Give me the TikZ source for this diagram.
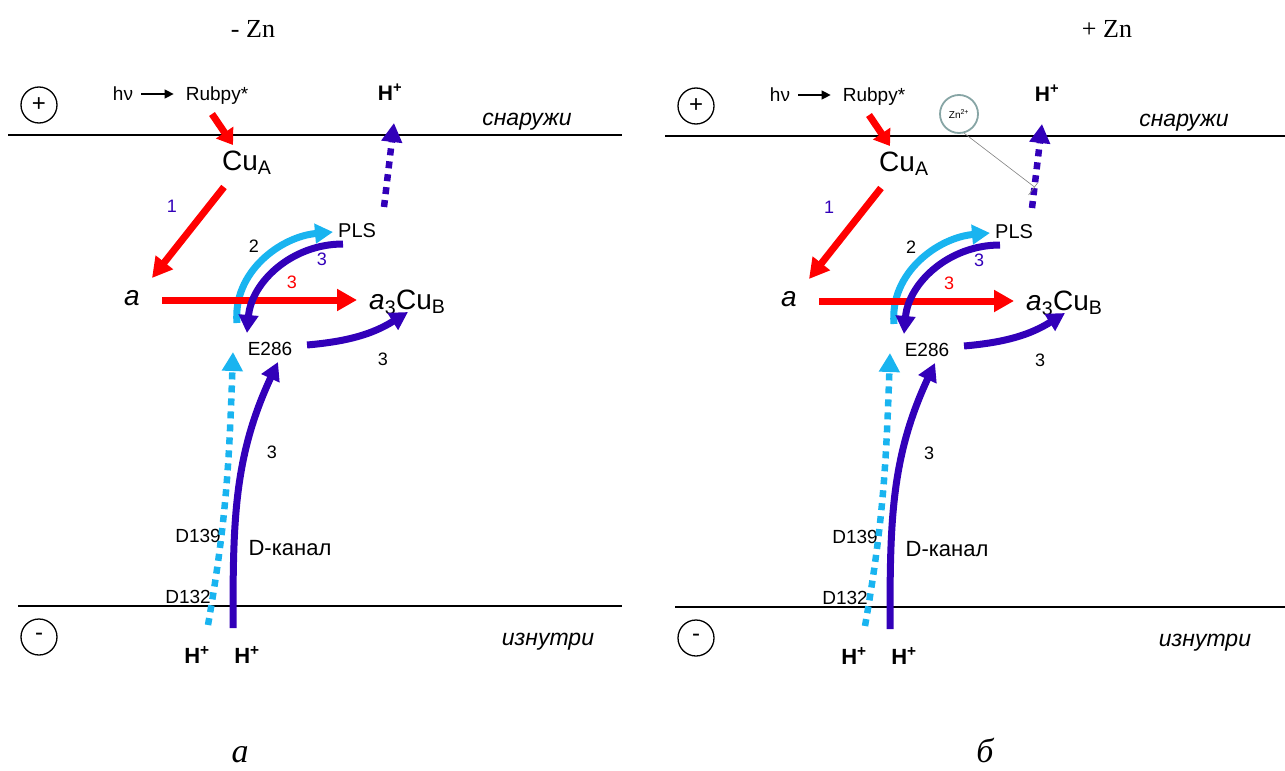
\documentclass[tikz,border=0pt]{standalone}
\usepackage{fontspec}
\setmainfont{Liberation Sans}
\newfontfamily\serifrm{Liberation Serif}
\usetikzlibrary{arrows.meta}
\definecolor{rd}{RGB}{255,0,0}
\definecolor{db}{RGB}{50,0,185}
\definecolor{lb}{RGB}{25,180,240}
\definecolor{zng}{RGB}{135,165,165}
\newcommand\fsz[1]{\fontsize{#1}{#1}\selectfont}
\tikzset{
  lbl/.style={inner sep=0pt},
  membrane/.style={line width=1.3pt, black},
  signc/.style={circle, draw, line width=1.3pt, minimum size=36pt, inner sep=0pt, font=\fsz{24}},
  redarr/.style={line width=7pt, rd, -{Triangle[length=20pt,width=21pt]}},
  redshort/.style={line width=7pt, rd, -{Triangle[length=15pt,width=20pt]}},
  dbarr/.style={line width=7pt, db, -{Triangle[length=18pt,width=19pt]}},
  lbarr/.style={line width=7pt, lb, -{Triangle[length=18pt,width=19pt]}},
  dotdb/.style={line width=6.5pt, db, dash pattern=on 7pt off 6pt, -{Triangle[length=19pt,width=20pt]}},
  dotlb/.style={line width=6.5pt, lb, dash pattern=on 7pt off 6pt, -{Triangle[length=19pt,width=20pt]}},
  thinarr/.style={line width=1.3pt, black, -{Triangle[length=9pt,width=9pt]}},
}
\newcommand\drawpanel[5]{%
\begin{scope}[xshift=#2pt,yshift=#3pt]
 \node[signc] (#1plus) at (39,-105) {+};
 \node[signc] (#1minus) at (39,-637) {-};
 \coordinate (#1tl) at (8,-135); \coordinate (#1tr) at (#4,-135);
 \draw[membrane] (#1tl) -- (#1tr);
 \coordinate (#1bl) at (18,-606); \coordinate (#1br) at (#4,-606);
 \draw[membrane] (#1bl) -- (#1br);
 \node[lbl,anchor=base,font=\fsz{19}] (#1hv) at (123,-100) {hν};
 \node[lbl,anchor=base,font=\fsz{19}] (#1rub) at (217,-100) {Rubpy*};
 \draw[thinarr] ([xshift=8pt,yshift=6pt]#1hv.base east) -- ([xshift=-12pt,yshift=6pt]#1rub.base west);
 \node[lbl,anchor=base,font=\fsz{21}\bfseries] (#1Ht) at (390,-100) {H\textsuperscript{+}};
 \node[lbl,anchor=base,font=\fsz{23}\itshape] (#1out) at (527,-125) {снаружи};
 \node[lbl,anchor=base,font=\fsz{23}\itshape] (#1in) at (548,-645) {изнутри};
 \node[lbl,anchor=base west,font=\fsz{28}] (#1CuA) at (222,-170) {Cu\textsubscript{A}};
 \node[lbl,anchor=base west,font=\fsz{20}] (#1PLS) at (338,-237) {PLS};
 \node[lbl,anchor=base,font=\fsz{28}\itshape] (#1a) at (132,-305) {a};
 \node[lbl,anchor=base west,font=\fsz{28}] (#1a3) at (369,-309) {\textit{a}\textsubscript{3}Cu\textsubscript{B}};
 \node[lbl,anchor=base,font=\fsz{19}] (#1E) at (270,-355) {E286};
 \node[lbl,anchor=base,font=\fsz{18},text=db] (#1n1) at (172,-212) {1};
 \node[lbl,anchor=base,font=\fsz{18}] (#1n2) at (254,-252) {2};
 \node[lbl,anchor=base,font=\fsz{18},text=db] (#1n3a) at (322,-265) {3};
 \node[lbl,anchor=base,font=\fsz{18},text=rd] (#1n3b) at (292,-288) {3};
 \node[lbl,anchor=base,font=\fsz{18}] (#1n3c) at (383,-365) {3};
 \node[lbl,anchor=base,font=\fsz{18}] (#1n3d) at (272,-458) {3};
 \node[lbl,anchor=base,font=\fsz{19}] (#1D139) at (198,-542) {D139};
 \node[lbl,anchor=base,font=\fsz{22}] (#1Dk) at (290,-555) {D-канал};
 \node[lbl,anchor=base,font=\fsz{19}] (#1D132) at (188,-603) {D132};
 \node[lbl,anchor=base,font=\fsz{22}\bfseries] (#1H1) at (197,-663) {H\textsuperscript{+}};
 \node[lbl,anchor=base,font=\fsz{22}\bfseries] (#1H2) at (247,-663) {H\textsuperscript{+}};
 % connector end points
 \coordinate (#1rs1) at (212,-114); \coordinate (#1rs2) at (233,-145);
 \coordinate (#1r1s) at (224,-187); \coordinate (#1r1e) at (152,-278);
 \coordinate (#1r3s) at (162,-300); \coordinate (#1r3e) at (357,-300);
 \coordinate (#1lbs) at (237,-323); \coordinate (#1lbe) at (333,-232);
 \coordinate (#1dbs) at (343,-244); \coordinate (#1dbe) at (247,-333);
 \coordinate (#1ebs) at (307,-345); \coordinate (#1ebe) at (408,-312);
 \coordinate (#1lds) at (208,-625); \coordinate (#1lde) at (233,-352);
 \coordinate (#1dcs) at (233,-628); \coordinate (#1dce) at (278,-362);
 \coordinate (#1tds) at (384+#5,-207); \coordinate (#1tde) at (394+#5,-123);
 \draw[redshort] (#1rs1) -- (#1rs2);
 \draw[redarr] (#1r1s) -- (#1r1e);
 \draw[lbarr] (#1lbs) to[out=95,in=185] (#1lbe);
 \draw[redarr] (#1r3s) -- (#1r3e);
 \draw[dbarr] (#1dbs) to[out=180,in=85] (#1dbe);
 \draw[dbarr] (#1ebs) to[out=5,in=212] (#1ebe);
 \draw[dotlb] (#1lds) to[out=80,in=268] (#1lde);
 \draw[dbarr] (#1dcs) to[out=90,in=245] (#1dce);
 \draw[dotdb] (#1tds) -- coordinate[pos=0.25] (#1tdm) (#1tde);
\end{scope}}
\begin{document}
\begin{tikzpicture}[x=1pt,y=1pt]
\useasboundingbox (0,0) rectangle (1285,-771);
\drawpanel{L}{0}{0}{622}{0}
\drawpanel{R}{657}{-1}{628}{-9}
\node[lbl,anchor=base,font=\serifrm\fsz{26}] (tl) at (253,-37) {- Zn};
\node[lbl,anchor=base,font=\serifrm\fsz{26}] (tr) at (1107,-37) {+ Zn};
\node[lbl,anchor=base,font=\serifrm\itshape\fsz{34}] (ca) at (240,-762) {а};
\node[lbl,anchor=base,font=\serifrm\itshape\fsz{34}] (cb) at (985,-762) {б};
\node[circle, draw=zng, line width=1.8pt, minimum size=38pt, inner sep=0pt, font=\fsz{10}] (Zn) at (959,-114) {Zn\textsuperscript{2+}};
\draw[gray, line width=0.6pt] (Zn.-75) -- (Rtdm);
\draw[gray, line width=0.6pt] ([shift={(3,4)}]Rtdm) -- ([shift={(-6,-8)}]Rtdm);
\end{tikzpicture}
\end{document}
